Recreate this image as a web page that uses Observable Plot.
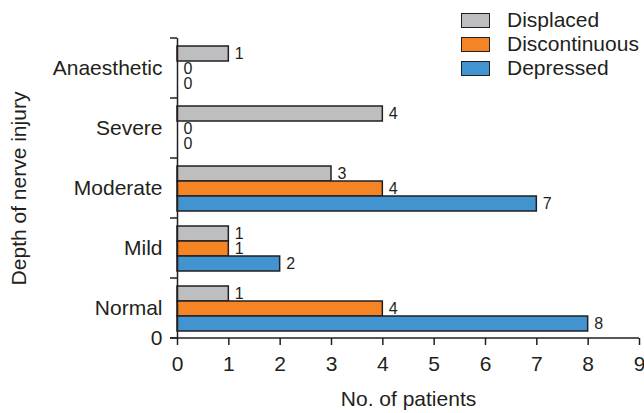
<!DOCTYPE html>
<html><head><meta charset="utf-8">
<script src="https://cdn.jsdelivr.net/npm/d3@7"></script>
<script src="https://cdn.jsdelivr.net/npm/@observablehq/plot@0.6"></script>
<style>
body{margin:0;background:#fff;}
#wrap{position:relative;width:644px;height:413px;font-family:"Liberation Sans",Arial,sans-serif;color:#231f20;}
#legend{position:absolute;left:461px;top:8px;}
#legend .row{display:flex;align-items:center;height:24px;font-size:21px;line-height:24px;white-space:nowrap;}
#legend .sw{box-sizing:border-box;width:29px;height:15px;border:1.5px solid #231f20;margin-right:17px;}
</style></head><body><div id="wrap"></div>
<script>
const categories = ["Normal", "Mild", "Moderate", "Severe", "Anaesthetic"];
const series = ["Displaced", "Discontinuous", "Depressed"];
const displaced = [1, 1, 3, 4, 1];
const discontinuous = [4, 1, 4, 0, 0];
const depressed = [8, 2, 7, 0, 0];
const xTicks = [0, 1, 2, 3, 4, 5, 6, 7, 8, 9];
const colors = ["#bcbec0", "#f58425", "#4294d0"];
const xLabel = "No. of patients";
const yLabel = "Depth of nerve injury";
const ink = "#231f20";

const seriesValues = [displaced, discontinuous, depressed];
const data = categories.flatMap((c, i) => series.map((s, j) => ({category: c, series: s, value: seriesValues[j][i]})));

const chart = Plot.plot({
  width: 644, height: 413,
  marginLeft: 177, marginRight: 5, marginTop: 37, marginBottom: 74,
  style: {fontFamily: '"Liberation Sans", Arial, sans-serif', fontSize: "21px", color: ink, background: "white", overflow: "visible"},
  x: {domain: [0, 9], axis: null},
  y: {domain: series, paddingInner: 0, paddingOuter: 0.5, axis: null},
  fy: {domain: [...categories].reverse(), padding: 0, axis: null},
  color: {domain: series, range: colors},
  marks: [
    Plot.barX(data, {fy: "category", y: "series", x: "value", fill: "series", stroke: ink, strokeWidth: 1.5}),
    Plot.text(data, {fy: "category", y: "series", x: "value", text: d => String(d.value), textAnchor: "start", dx: 6, fontSize: 16, fill: ink}),
    Plot.ruleX([0], {stroke: ink, strokeWidth: 1.5}),
    Plot.axisX({ticks: xTicks, tickSize: 7, tickPadding: 11, fontSize: 21, label: null, stroke: ink, strokeWidth: 1.5, color: ink}),
    Plot.axisFy({anchor: "left", tickSize: 0, tickPadding: 15, fontSize: 21, label: null, color: ink}),
    Plot.text([xLabel], {frameAnchor: "bottom", text: d => d, textAnchor: "middle", lineAnchor: "middle", dy: 61, fontSize: 21, fill: ink, facet: "super"}),
    Plot.text([yLabel], {frameAnchor: "left", text: d => d, textAnchor: "middle", lineAnchor: "middle", rotate: -90, dx: -158, fontSize: 21, fill: ink, facet: "super"}),
    Plot.text(["0"], {frameAnchor: "bottom-left", text: d => d, dx: -15, textAnchor: "end", lineAnchor: "middle", fontSize: 21, fill: ink, facet: "super"})
  ]
});

// category boundary ticks and x baseline, from the library's scales
const fyS = chart.scale("fy");
const xS = chart.scale("x");
const x0 = xS.apply(0), x9 = xS.apply(9);
const dom = fyS.domain;
const bw = fyS.bandwidth;
const bounds = dom.map(d => fyS.apply(d)).concat([fyS.apply(dom[dom.length - 1]) + bw]);
const g = d3.select(chart).append("g").attr("stroke", ink).attr("stroke-width", 1.5);
g.selectAll("line.b").data(bounds).join("line").attr("class", "b")
  .attr("x1", x0 - 7).attr("x2", x0).attr("y1", d => d).attr("y2", d => d);
const yb = d3.max(bounds);
g.append("line").attr("x1", x0 - 7).attr("x2", x9).attr("y1", yb).attr("y2", yb);

const wrap = document.getElementById("wrap");
wrap.appendChild(chart);
const legend = document.createElement("div");
legend.id = "legend";
series.forEach((s, i) => {
  const row = document.createElement("div");
  row.className = "row";
  const sw = document.createElement("div");
  sw.className = "sw";
  sw.style.background = colors[i];
  const t = document.createElement("span");
  t.textContent = s;
  row.appendChild(sw); row.appendChild(t);
  legend.appendChild(row);
});
wrap.appendChild(legend);
</script></body></html>
